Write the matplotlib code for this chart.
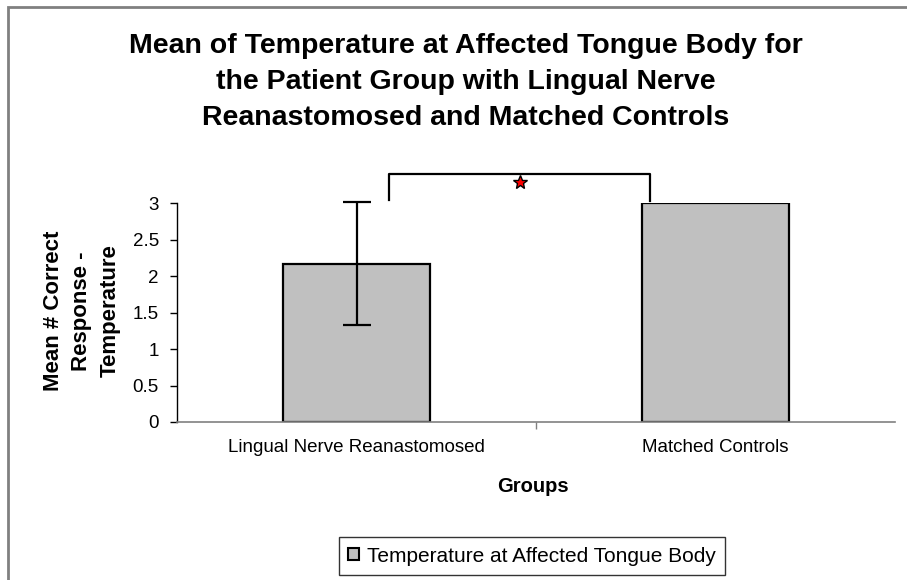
import matplotlib
matplotlib.use("Agg")
import matplotlib.pyplot as plt
from matplotlib.patches import Patch, Rectangle

# Data
groups = ["Lingual Nerve Reanastomosed", "Matched Controls"]
means = [2.17, 3.0]
errors = [0.84, 0.0]
yticks = [0, 0.5, 1, 1.5, 2, 2.5, 3]
series_name = "Temperature at Affected Tongue Body"

plt.rcParams["font.family"] = ["Liberation Sans", "DejaVu Sans"]

fig = plt.figure(figsize=(9.07, 5.8), dpi=100)

# outer chart frame (grey, runs off the right/bottom edges)
fig.patches.append(Rectangle((8 / 907, -0.1), 1.2, 1 - 7 / 580 + 0.1, transform=fig.transFigure,
                             fill=False, edgecolor="#808080", linewidth=2))

ax = fig.add_axes([177 / 907, 1 - 422 / 580, 718 / 907, 219 / 580])

x = list(range(len(groups)))
ax.bar(x, means, width=0.41, color="#C0C0C0", edgecolor="black", linewidth=1.6)
err_x = [i for i, e in zip(x, errors) if e > 0]
err_y = [m for m, e in zip(means, errors) if e > 0]
err_v = [e for e in errors if e > 0]
eb = ax.errorbar(err_x, err_y, yerr=err_v, fmt="none", ecolor="black", elinewidth=1.6,
                 capsize=10, capthick=1.6)
for art in eb.lines[1] + eb.lines[2]:
    art.set_clip_on(False)

ax.set_xlim(-0.5, 1.5)
ax.set_ylim(0, 3)
ax.set_yticks(yticks)
ax.set_yticklabels([f"{t:g}" for t in yticks], fontsize=13.5)
ax.set_xticks([0.5])
ax.set_xticklabels([""])
ax.tick_params(axis="x", length=5, color="#808080", width=1)
ax.tick_params(axis="y", length=5, width=1, pad=8)
for s in ["top", "right"]:
    ax.spines[s].set_visible(False)
ax.spines["bottom"].set_color("#808080")
ax.spines["bottom"].set_linewidth(1.2)
ax.spines["left"].set_linewidth(1)

# category labels
for i, g in enumerate(groups):
    ax.text(i, -0.35, g, ha="center", va="center", fontsize=13.5, clip_on=False)

# significance bracket
ax.plot([0.09, 0.09, 0.8175, 0.8175], [3.04, 3.40, 3.40, 3.03], color="black",
        linewidth=1.6, clip_on=False)
ax.plot([0.455], [3.29], marker="*", markersize=10, markerfacecolor="red",
        markeredgecolor="black", markeredgewidth=1, clip_on=False)

fig.text(533 / 907, 1 - 486 / 580, "Groups", ha="center", va="center",
         fontsize=14.5, fontweight="bold")
fig.text(82 / 907, 1 - 311 / 580, "Mean # Correct\nResponse -\nTemperature", ha="center",
         va="center", rotation=90, fontsize=16, fontweight="heavy", linespacing=1.45)

fig.text(466 / 907, 1 - 82 / 580,
         "Mean of Temperature at Affected Tongue Body for\nthe Patient Group with Lingual Nerve\n"
         "Reanastomosed and Matched Controls",
         ha="center", va="center", fontsize=20.5, fontweight="bold", linespacing=1.5)

handle = Patch(facecolor="#C0C0C0", edgecolor="black", linewidth=1.5)
leg = fig.legend([handle], [series_name], loc="center", bbox_to_anchor=(532 / 907, 1 - 556 / 580),
                 fontsize=15, frameon=True, fancybox=False, handlelength=0.5, handleheight=0.5,
                 handletextpad=0.4, borderpad=0.45)
leg.get_frame().set_edgecolor("black")
leg.get_frame().set_linewidth(1)

fig.savefig("out.png", dpi=100)
